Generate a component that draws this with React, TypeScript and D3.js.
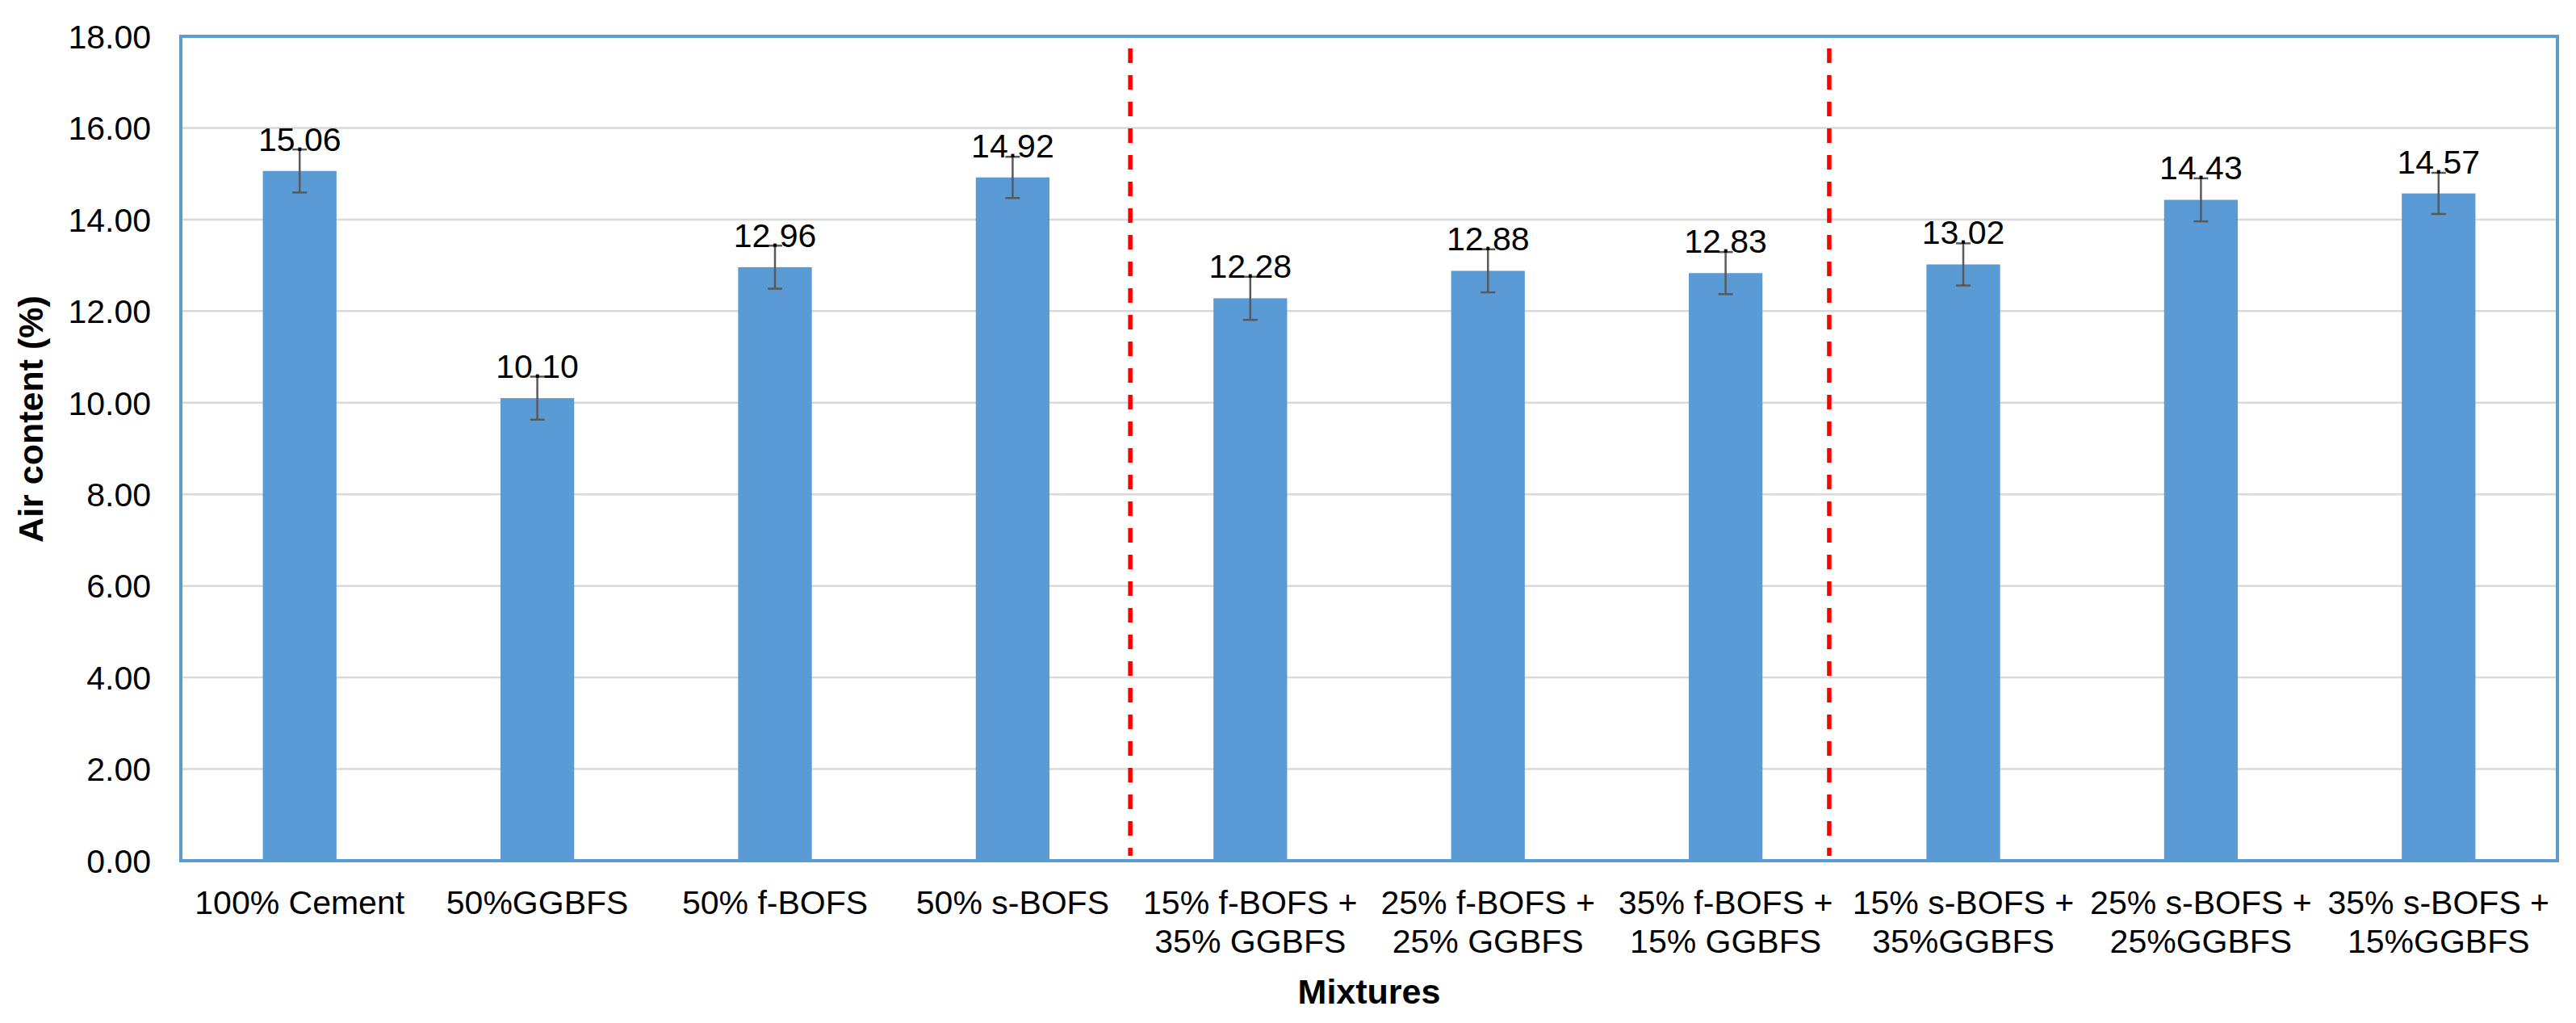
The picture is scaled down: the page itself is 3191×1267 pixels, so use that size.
import React from "react";
import * as d3 from "d3";

const categories: string[][] = [
  ["100% Cement"],
  ["50%GGBFS"],
  ["50% f-BOFS"],
  ["50% s-BOFS"],
  ["15% f-BOFS +", "35% GGBFS"],
  ["25% f-BOFS +", "25% GGBFS"],
  ["35% f-BOFS +", "15% GGBFS"],
  ["15% s-BOFS +", "35%GGBFS"],
  ["25% s-BOFS +", "25%GGBFS"],
  ["35% s-BOFS +", "15%GGBFS"],
];
const airContent: number[] = [15.06, 10.1, 12.96, 14.92, 12.28, 12.88, 12.83, 13.02, 14.43, 14.57];
const errors: number[] = [0.47, 0.47, 0.47, 0.45, 0.47, 0.47, 0.46, 0.46, 0.47, 0.45];
const yTicks: number[] = [0, 2, 4, 6, 8, 10, 12, 14, 16, 18];
const dividers: number[] = [3.995, 6.936]; // in category-index units
const yTitle = "Air content (%)";
const xTitle = "Mixtures";

const W = 3191;
const H = 1267;
const M = { left: 224, right: 3168, top: 45, bottom: 1066 };
const FONT = "'Liberation Sans', Arial, sans-serif";
const BLUE = "#5B9BD5";

export default function App() {
  const ids = categories.map((_, i) => String(i));
  const x = d3
    .scaleBand<string>()
    .domain(ids)
    .range([M.left, M.right])
    .paddingInner(0.69)
    .paddingOuter(0.345);
  const y = d3.scaleLinear().domain([0, 18]).range([M.bottom, M.top]);
  const step = x.step();
  const idx = d3.scaleLinear().domain([0, categories.length]).range([M.left, M.right]);
  const fmt = d3.format(".2f");

  return (
    <div style={{ position: "absolute", left: 0, top: 0, width: W, height: H, background: "#fff" }}>
      <svg width={W} height={H} style={{ display: "block" }} fontFamily={FONT}>
        <rect x={0} y={0} width={W} height={H} fill="#fff" />
        {/* gridlines */}
        {yTicks
          .filter((t) => t > 0 && t < 18)
          .map((t) => (
            <line key={"g" + t} x1={M.left} x2={M.right} y1={y(t)} y2={y(t)} stroke="#D9D9D9" strokeWidth={2.5} />
          ))}
        {/* red dividers */}
        {dividers.map((d, i) => (
          <line
            key={"d" + i}
            x1={idx(d)}
            x2={idx(d)}
            y1={y(18) + 15}
            y2={y(0) - 6}
            stroke="#FF0000"
            strokeWidth={5.5}
            strokeDasharray="18 15"
          />
        ))}
        {/* bars */}
        {airContent.map((v, i) => (
          <rect
            key={"b" + i}
            x={x(String(i))}
            y={y(v)}
            width={x.bandwidth()}
            height={y(0) - y(v)}
            fill={BLUE}
          />
        ))}
        {/* error bars */}
        {airContent.map((v, i) => {
          const cx = (x(String(i)) as number) + x.bandwidth() / 2;
          const e = errors[i];
          return (
            <g key={"e" + i} stroke="#595959" strokeWidth={2.5}>
              <line x1={cx} x2={cx} y1={y(v + e)} y2={y(v - e)} />
              <line x1={cx - 9} x2={cx + 9} y1={y(v + e)} y2={y(v + e)} />
              <line x1={cx - 9} x2={cx + 9} y1={y(v - e)} y2={y(v - e)} />
            </g>
          );
        })}
        {/* value labels */}
        {airContent.map((v, i) => {
          const cx = (x(String(i)) as number) + x.bandwidth() / 2;
          return (
            <text key={"v" + i} x={cx} y={y(v) - 25} textAnchor="middle" fontSize={41} fill="#000">
              {fmt(v)}
            </text>
          );
        })}
        {/* plot frame */}
        <rect
          x={M.left}
          y={M.top}
          width={M.right - M.left}
          height={M.bottom - M.top}
          fill="none"
          stroke={BLUE}
          strokeWidth={4}
        />
        {/* y ticks */}
        {yTicks.map((t) => (
          <text key={"t" + t} x={187} y={y(t)} dy="0.36em" textAnchor="end" fontSize={41} fill="#000">
            {fmt(t)}
          </text>
        ))}
        {/* category labels */}
        {categories.map((lines, i) => {
          const cx = (x(String(i)) as number) + x.bandwidth() / 2;
          return (
            <text key={"c" + i} x={cx} y={1132} textAnchor="middle" fontSize={41} fill="#000">
              {lines.map((l, j) => (
                <tspan key={j} x={cx} dy={j === 0 ? 0 : 48}>
                  {l}
                </tspan>
              ))}
            </text>
          );
        })}
        {/* axis titles */}
        <text x={(M.left + M.right) / 2} y={1243} textAnchor="middle" fontSize={43} fontWeight="bold" fill="#000">
          {xTitle}
        </text>
        <text
          transform={`translate(53, 519) rotate(-90)`}
          textAnchor="middle"
          fontSize={43}
          fontWeight="bold"
          fill="#000"
        >
          {yTitle}
        </text>
      </svg>
    </div>
  );
}
